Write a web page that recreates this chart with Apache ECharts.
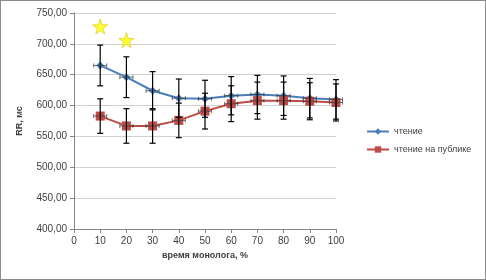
<!DOCTYPE html>
<html>
<head>
<meta charset="utf-8">
<script src="https://cdn.jsdelivr.net/npm/echarts@6/dist/echarts.min.js"></script>
<style>
  html, body { margin: 0; padding: 0; background: #fff; }
  #chart { width: 486px; height: 280px; box-sizing: border-box; border: 1px solid #8c8c8c; }
</style>
</head>
<body>
<div id="chart"></div>
<script>
  // время монолога, %
  const xValues = [10, 20, 30, 40, 50, 60, 70, 80, 90, 100]
  const reading = [665, 646, 624, 612, 611, 616, 618, 616, 612, 610]
  const readingErr = [33, 33, 31, 31, 30, 31, 31, 32, 32, 32]
  const publicReading = [583, 567, 567, 576, 591, 603, 608, 608, 607, 605]
  const publicErr = [28, 28, 28, 28, 29, 29, 30, 30, 30, 30]
  // значимые различия
  const starX = [10, 20]
  const starY = [728, 706]
  const xErr = 2.5

  const STAR = 'path://M50,0 L61,35 L98,35 L68,57 L79,91 L50,70 L21,91 L32,57 L2,35 L39,35 Z'

  function errData(vals, errs) {
    return xValues.map((x, i) => [x, vals[i] - errs[i], vals[i] + errs[i], vals[i]])
  }

  function renderErr(params, api) {
    const x = api.value(0)
    const lo = api.coord([x, api.value(1)])
    const hi = api.coord([x, api.value(2)])
    const mid = api.coord([x, api.value(3)])
    const left = api.coord([x - xErr, api.value(3)])
    const right = api.coord([x + xErr, api.value(3)])
    const cap = 3
    const st = { stroke: '#000', lineWidth: 1.2 }
    const thin = { stroke: '#333', lineWidth: 0.7 }
    return {
      type: 'group',
      children: [
        { type: 'line', shape: { x1: lo[0], y1: lo[1], x2: hi[0], y2: hi[1] }, style: st },
        { type: 'line', shape: { x1: lo[0] - cap, y1: lo[1], x2: lo[0] + cap, y2: lo[1] }, style: st },
        { type: 'line', shape: { x1: hi[0] - cap, y1: hi[1], x2: hi[0] + cap, y2: hi[1] }, style: st },
        { type: 'line', shape: { x1: left[0], y1: mid[1], x2: right[0], y2: mid[1] }, style: thin },
        { type: 'line', shape: { x1: left[0], y1: mid[1] - 2, x2: left[0], y2: mid[1] + 2 }, style: thin },
        { type: 'line', shape: { x1: right[0], y1: mid[1] - 2, x2: right[0], y2: mid[1] + 2 }, style: thin }
      ]
    }
  }

  const chart = echarts.init(document.getElementById('chart'))
  const font = '"Liberation Sans", "DejaVu Sans", sans-serif'
  chart.setOption({
    animation: false,
    textStyle: { fontFamily: font },
    grid: { left: 73, right: 149, top: 12, bottom: 50 },
    legend: {
      orient: 'vertical',
      left: 360,
      top: 121,
      itemGap: 9,
      itemWidth: 22,
      itemHeight: 8,
      textStyle: { fontSize: 9, color: '#404040', fontFamily: font },
      data: ['чтение', 'чтение на публике']
    },
    xAxis: {
      type: 'value',
      min: 0,
      max: 100,
      interval: 10,
      name: 'время монолога, %',
      nameLocation: 'middle',
      nameGap: 21,
      nameTextStyle: { fontSize: 9, fontWeight: 'bold', color: '#404040' },
      axisLine: { lineStyle: { color: '#868686' } },
      axisTick: { show: true, inside: false, length: 4, lineStyle: { color: '#868686' } },
      axisLabel: { fontSize: 10, color: '#404040', margin: 7 },
      splitLine: { show: false }
    },
    yAxis: {
      type: 'value',
      min: 400,
      max: 750,
      interval: 50,
      name: 'RR, мс',
      nameLocation: 'middle',
      nameGap: 50,
      nameTextStyle: { fontSize: 9, fontWeight: 'bold', color: '#404040' },
      axisLine: { show: true, lineStyle: { color: '#868686' } },
      axisTick: { show: true, length: 4, lineStyle: { color: '#868686' } },
      axisLabel: {
        fontSize: 10,
        color: '#404040',
        margin: 7,
        formatter: v => v.toFixed(2).replace('.', ',')
      },
      splitLine: { lineStyle: { color: '#d0d0d0' } }
    },
    series: [
      {
        name: 'чтение',
        type: 'line',
        data: xValues.map((x, i) => [x, reading[i]]),
        symbol: 'diamond',
        symbolSize: 8,
        lineStyle: { color: '#4a7ebb', width: 2 },
        itemStyle: { color: '#4a7ebb' },
        z: 3
      },
      {
        name: 'чтение на публике',
        type: 'line',
        data: xValues.map((x, i) => [x, publicReading[i]]),
        symbol: 'rect',
        symbolSize: 9,
        lineStyle: { color: '#be4b48', width: 2 },
        itemStyle: { color: '#be4b48' },
        z: 3
      },
      {
        type: 'custom',
        renderItem: renderErr,
        data: errData(reading, readingErr),
        encode: { x: 0, y: [1, 2] },
        z: 4,
        silent: true
      },
      {
        type: 'custom',
        renderItem: renderErr,
        data: errData(publicReading, publicErr),
        encode: { x: 0, y: [1, 2] },
        z: 4,
        silent: true
      },
      {
        type: 'scatter',
        data: starX.map((x, i) => [x, starY[i]]),
        symbol: STAR,
        symbolSize: 15,
        itemStyle: { color: '#ffff00', borderColor: '#e0c000', borderWidth: 0.8 },
        z: 5
      }
    ]
  })
</script>
</body>
</html>
